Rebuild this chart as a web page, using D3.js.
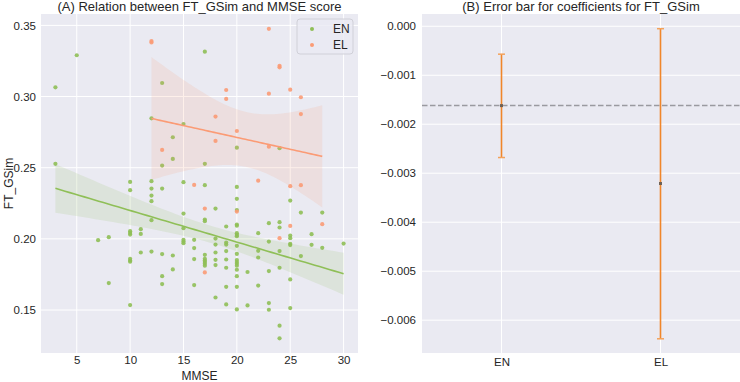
<!DOCTYPE html>
<html>
<head>
<meta charset="utf-8">
<script src="https://cdn.jsdelivr.net/npm/d3@7"></script>
<style>
  body { margin: 0; background: #fff; }
  text { font-family: "Liberation Sans", Arial, sans-serif; fill: #262626; }
</style>
</head>
<body>
<script>
// panel A data: MMSE score and FT_GSim per subject
const enMMSE = [3,3,5,7,8,8,
  10,10,10,10,10,10,10,10,10, 11,11,11, 12,12,12,12,12,12,12, 13,13,13,13,13,13,
  14,14,14,14, 15,15,15,15,15,15,15, 16,16,16,16,
  17,17,17,17,17,17,17,17,17,17,17, 18,18,18,18,18,18,18, 19,19,19,19,19,19,19,19,
  20,20,20,20,20,20,20,20,20,20,20,20,20,20,20,20,20,20,20,
  21,21, 22,22,22,22, 23,23,23,23,23, 24,24,24,24,24,24,24, 25,25,25,25,25,25,25,
  26,26, 27,27, 28,28, 30]
const enFT = [0.3065,0.2527,0.329,0.1991,0.2012,0.1689,
  0.24,0.2342,0.2054,0.2042,0.203,0.186,0.1848,0.1839,0.1535,
  0.2068,0.2035,0.1904,
  0.2847,0.2405,0.2353,0.2304,0.2265,0.2131,0.1911,
  0.3095,0.2515,0.2353,0.1893,0.1738,0.1682,
  0.2714,0.2562,0.1883,0.1785,
  0.2807,0.2398,0.2178,0.2075,0.1993,0.1981,0.197,
  0.1993,0.1935,0.1858,0.1675,
  0.3315,0.2527,0.2377,0.2136,0.2124,0.1888,0.186,0.1848,0.1837,0.1825,0.1811,
  0.2213,0.2002,0.196,0.1904,0.1853,0.1816,0.1588,
  0.2087,0.1974,0.196,0.1914,0.1855,0.1797,0.1663,0.1539,
  0.2641,0.2365,0.2281,0.2202,0.2101,0.2092,0.204,0.2028,0.2019,0.1951,0.1895,0.1851,0.1837,0.1825,0.1811,0.1783,0.1738,0.1663,0.1504,
  0.1767,0.1532,
  0.204,0.1916,0.1869,0.1672,
  0.211,0.1981,0.1774,0.1549,0.1502,
  0.2637,0.2117,0.208,0.1914,0.1797,0.139,0.1301,
  0.2269,0.2023,0.2005,0.1965,0.1956,0.1715,0.1514,
  0.2185,0.1879, 0.2033,0.1958, 0.2185,0.1937, 0.1967]
const elMMSE = [12,12,13,16,17,17,18,18,19,19,20,20,22,23,23,23,24,24,24,25,25,25,26,26,26,28]
const elFT = [0.339,0.338,0.2625,0.2379,0.2213,0.1764,0.2859,0.2688,0.3046,0.2983,0.2758,0.2192,
  0.2409,0.3476,0.302,0.2648,0.3216,0.3205,0.2005,0.3048,0.237,0.2091,0.2995,0.2877,0.2377,0.2103]

// panel B data: coefficient and its interval
const groups = ["EN", "EL"]
const coef = [-0.00162, -0.00321]
const ciLow = [-0.00268, -0.00638]
const ciHigh = [-0.00057, -0.00005]

const xTicksA = [5, 10, 15, 20, 25, 30]
const yTicksA = [0.15, 0.20, 0.25, 0.30, 0.35]
const yTicksB = [0, -0.001, -0.002, -0.003, -0.004, -0.005, -0.006]

const W = 740, H = 382
const bg = "#eaeaf2"
const green = "#8fbf57", orange = "#fb9b75"

const svg = d3.select("body").append("svg").attr("width", W).attr("height", H)

// ---------- panel A ----------
const A = {left: 41, right: 358, top: 14, bottom: 353}
const x = d3.scaleLinear().domain([1.65, 31.35]).range([A.left, A.right])
const y = d3.scaleLinear().domain([0.1198, 0.358]).range([A.bottom, A.top])

svg.append("rect").attr("x", A.left).attr("y", A.top)
  .attr("width", A.right - A.left).attr("height", A.bottom - A.top).attr("fill", bg)

const gA = svg.append("g")
gA.selectAll(".vg").data(xTicksA).enter().append("line")
  .attr("x1", d => x(d)).attr("x2", d => x(d)).attr("y1", A.top).attr("y2", A.bottom)
  .attr("stroke", "#fff").attr("stroke-width", 1)
gA.selectAll(".hg").data(yTicksA).enter().append("line")
  .attr("x1", A.left).attr("x2", A.right).attr("y1", d => y(d)).attr("y2", d => y(d))
  .attr("stroke", "#fff").attr("stroke-width", 1)

svg.append("g").attr("transform", `translate(0,${A.bottom})`)
  .call(d3.axisBottom(x).tickValues(xTicksA).tickSize(0).tickPadding(3))
svg.append("g").attr("transform", `translate(${A.left},0)`)
  .call(d3.axisLeft(y).tickValues(yTicksA).tickFormat(d3.format(".2f")).tickSize(0).tickPadding(5))

// simple least squares fit with a t based band
function fit(xs, ys, lo, hi) {
  const n = xs.length
  const mx = d3.mean(xs), my = d3.mean(ys)
  let sxx = 0, sxy = 0
  xs.forEach((v, i) => { sxx += (v - mx) * (v - mx); sxy += (v - mx) * (ys[i] - my) })
  const b = sxy / sxx, a = my - b * mx
  let sse = 0
  xs.forEach((v, i) => { const r = ys[i] - (a + b * v); sse += r * r })
  const s = Math.sqrt(sse / (n - 2))
  const t = 1.96 + 2.4 / (n - 2)
  return d3.range(lo, hi + 0.001, (hi - lo) / 60).map(v => {
    const yh = a + b * v
    const se = s * Math.sqrt(1 / n + (v - mx) * (v - mx) / sxx)
    return {x: v, y: yh, y0: yh - t * se, y1: yh + t * se}
  })
}

const enFit = fit(enMMSE, enFT, d3.min(enMMSE), d3.max(enMMSE))
const elFit = fit(elMMSE, elFT, d3.min(elMMSE), d3.max(elMMSE))

const band = d3.area().x(d => x(d.x)).y0(d => y(d.y0)).y1(d => y(d.y1))
const line = d3.line().x(d => x(d.x)).y(d => y(d.y))

const clipA = svg.append("clipPath").attr("id", "clipA")
clipA.append("rect").attr("x", A.left).attr("y", A.top)
  .attr("width", A.right - A.left).attr("height", A.bottom - A.top)
const plotA = svg.append("g").attr("clip-path", "url(#clipA)")

plotA.selectAll(".en").data(enMMSE).enter().append("circle")
  .attr("cx", d => x(d)).attr("cy", (d, i) => y(enFT[i])).attr("r", 2.1)
  .attr("fill", green).attr("opacity", 0.9)
plotA.append("path").datum(enFit).attr("d", band).attr("fill", green).attr("opacity", 0.15)
plotA.append("path").datum(enFit).attr("d", line).attr("fill", "none")
  .attr("stroke", green).attr("stroke-width", 1.6)

plotA.selectAll(".el").data(elMMSE).enter().append("circle")
  .attr("cx", d => x(d)).attr("cy", (d, i) => y(elFT[i])).attr("r", 2.1)
  .attr("fill", orange).attr("opacity", 0.9)
plotA.append("path").datum(elFit).attr("d", band).attr("fill", orange).attr("opacity", 0.15)
plotA.append("path").datum(elFit).attr("d", line).attr("fill", "none")
  .attr("stroke", orange).attr("stroke-width", 1.6)

// legend
const leg = svg.append("g").attr("transform", "translate(297,19)")
leg.append("rect").attr("width", 56).attr("height", 35).attr("rx", 3)
  .attr("fill", bg).attr("fill-opacity", 0.8).attr("stroke", "#d0d0d8")
const legItems = [{name: "EN", c: green}, {name: "EL", c: orange}]
legItems.forEach((d, i) => {
  leg.append("circle").attr("cx", 15).attr("cy", 10 + i * 16).attr("r", 2).attr("fill", d.c)
  leg.append("text").attr("x", 36).attr("y", 14 + i * 16).attr("font-size", 12).text(d.name)
})

svg.append("text").attr("x", (A.left + A.right) / 2).attr("y", 11)
  .attr("text-anchor", "middle").attr("font-size", 13)
  .text("(A) Relation between FT_GSim and MMSE score")
svg.append("text").attr("x", (A.left + A.right) / 2).attr("y", 380)
  .attr("text-anchor", "middle").attr("font-size", 12).text("MMSE")
svg.append("text").attr("transform", `translate(13,${(A.top + A.bottom) / 2}) rotate(-90)`)
  .attr("text-anchor", "middle").attr("font-size", 12).text("FT_GSim")

// ---------- panel B ----------
const B = {left: 422, right: 740, top: 14, bottom: 353}
const xb = d3.scalePoint().domain(groups).range([B.left, B.right]).padding(0.5)
const yb = d3.scaleLinear().domain([-0.00667, 0.00025]).range([B.bottom, B.top])

svg.append("rect").attr("x", B.left).attr("y", B.top)
  .attr("width", B.right - B.left).attr("height", B.bottom - B.top).attr("fill", bg)
const gB = svg.append("g")
gB.selectAll(".vg").data(groups).enter().append("line")
  .attr("x1", d => xb(d)).attr("x2", d => xb(d)).attr("y1", B.top).attr("y2", B.bottom)
  .attr("stroke", "#fff")
gB.selectAll(".hg").data(yTicksB).enter().append("line")
  .attr("x1", B.left).attr("x2", B.right).attr("y1", d => yb(d)).attr("y2", d => yb(d))
  .attr("stroke", "#fff")

svg.append("g").attr("transform", `translate(0,${B.bottom})`)
  .call(d3.axisBottom(xb).tickSize(0).tickPadding(5))
svg.append("g").attr("transform", `translate(${B.left},0)`)
  .call(d3.axisLeft(yb).tickValues(yTicksB).tickFormat(d3.format(".3f")).tickSize(0).tickPadding(6))

// reference line at the EN coefficient
svg.append("line").attr("x1", B.left).attr("x2", B.right)
  .attr("y1", yb(coef[0])).attr("y2", yb(coef[0]))
  .attr("stroke", "#9a9aa0").attr("stroke-width", 1.5).attr("stroke-dasharray", "5.5,2.5")

const bars = svg.append("g").selectAll("g").data(groups).enter().append("g")
bars.append("line")
  .attr("x1", d => xb(d)).attr("x2", d => xb(d))
  .attr("y1", (d, i) => yb(ciLow[i])).attr("y2", (d, i) => yb(ciHigh[i]))
  .attr("stroke", "#f0862a").attr("stroke-width", 1.6)
bars.append("line")
  .attr("x1", d => xb(d) - 3.5).attr("x2", d => xb(d) + 3.5)
  .attr("y1", (d, i) => yb(ciLow[i])).attr("y2", (d, i) => yb(ciLow[i]))
  .attr("stroke", "#f4a25a").attr("stroke-width", 1.5)
bars.append("line")
  .attr("x1", d => xb(d) - 3.5).attr("x2", d => xb(d) + 3.5)
  .attr("y1", (d, i) => yb(ciHigh[i])).attr("y2", (d, i) => yb(ciHigh[i]))
  .attr("stroke", "#f4a25a").attr("stroke-width", 1.5)
bars.append("rect")
  .attr("x", d => xb(d) - 1.5).attr("y", (d, i) => yb(coef[i]) - 1.5)
  .attr("width", 3).attr("height", 3).attr("fill", "#6e6155")

svg.append("text").attr("x", (B.left + B.right) / 2).attr("y", 11)
  .attr("text-anchor", "middle").attr("font-size", 13)
  .text("(B) Error bar for coefficients for FT_GSim")

// axis text styling
svg.selectAll(".domain").remove()
svg.selectAll(".tick text").attr("font-size", 11.5).attr("fill", "#262626")
  .style("font-family", "'Liberation Sans', Arial, sans-serif")
</script>
</body>
</html>
